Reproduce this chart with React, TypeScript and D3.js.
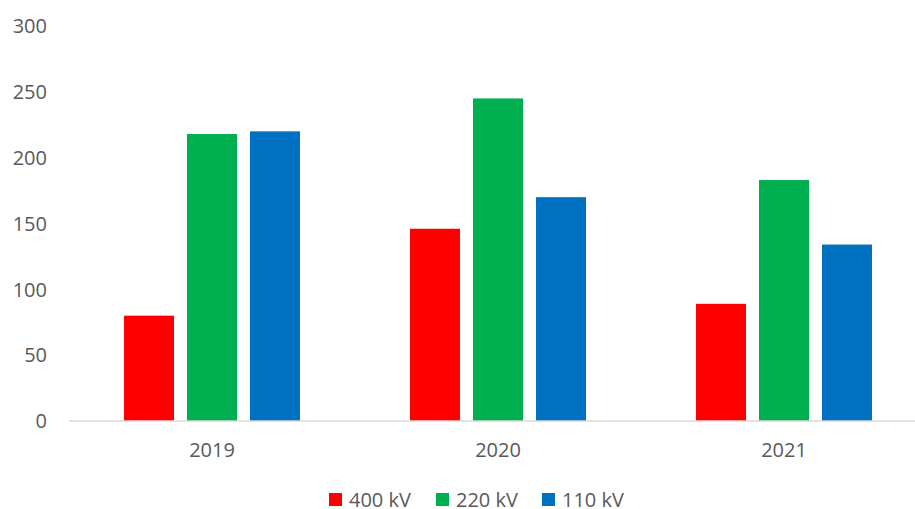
import React from "react";
import * as d3 from "d3";

const categories = ["2019", "2020", "2021"];
const seriesNames = ["400 kV", "220 kV", "110 kV"];
const series400 = [80, 146, 89];
const series220 = [218, 245, 183];
const series110 = [220, 170, 134];
const yTicks = [0, 50, 100, 150, 200, 250, 300];
const colors = ["#FF0000", "#00B050", "#0070C0"];

const W = 915;
const H = 509;

export default function App() {
  const values = [series400, series220, series110];
  const y = d3.scaleLinear().domain([0, 300]).range([421, 26]);
  const x0 = d3.scaleBand<string>().domain(categories).range([69, 927]).padding(0);
  const x1 = d3
    .scaleBand<string>()
    .domain(seriesNames)
    .range([55, 231])
    .paddingInner(0.206)
    .paddingOuter(0);
  const font = "'Open Sans', 'Noto Sans', sans-serif";
  const legendX = [329, 436, 542];
  return (
    <svg width={W} height={H} style={{ position: "absolute", left: 0, top: 0 }}>
      <rect width={W} height={H} fill="#fff" />
      {yTicks.map((t) => (
        <text
          key={t}
          x={47}
          y={y(t)}
          dy="0.36em"
          textAnchor="end"
          fontFamily={font}
          fontSize={20}
          fill="#595959"
        >
          {t}
        </text>
      ))}
      {categories.map((c, ci) =>
        seriesNames.map((s, si) => {
          const v = values[si][ci];
          return (
            <rect
              key={c + s}
              x={(x0(c) as number) + (x1(s) as number)}
              y={y(v)}
              width={x1.bandwidth()}
              height={y(0) - y(v)}
              fill={colors[si]}
            />
          );
        })
      )}
      <line x1={69} x2={915} y1={421} y2={421} stroke="#D9D9D9" strokeWidth={1.5} />
      {categories.map((c) => (
        <text
          key={c}
          x={(x0(c) as number) + x0.bandwidth() / 2}
          y={457}
          textAnchor="middle"
          fontFamily={font}
          fontSize={20}
          fill="#595959"
        >
          {c}
        </text>
      ))}
      {seriesNames.map((s, i) => (
        <g key={s}>
          <rect x={legendX[i]} y={493} width={13} height={13} fill={colors[i]} />
          <text
            x={legendX[i] + 20}
            y={499.5}
            dy="0.36em"
            fontFamily={font}
            fontSize={20}
            fill="#595959"
          >
            {s}
          </text>
        </g>
      ))}
    </svg>
  );
}
